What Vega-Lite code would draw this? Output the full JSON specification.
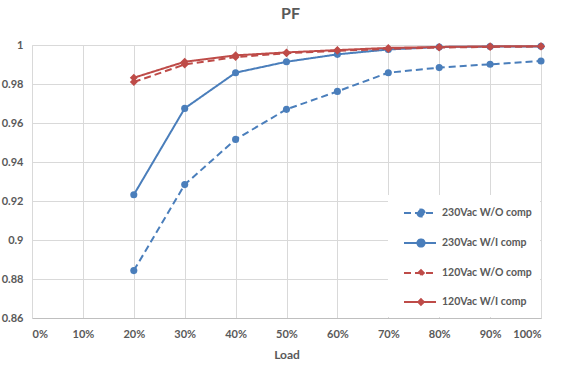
{
  "$schema": "https://vega.github.io/schema/vega-lite/v6.json",
  "width": 509,
  "height": 273,
  "autosize": {"type": "none"},
  "padding": {"left": 32, "top": 45, "right": 35, "bottom": 55},
  "background": "white",
  "title": {"text": "PF", "fontSize": 16, "font": "Lato", "fontWeight": "bold", "color": "#595959", "offset": 17, "dx": 4},
  "config": {
    "view": {"stroke": null},
    "font": "Lato",
    "axis": {"labelFont": "Lato", "labelFontSize": 11, "labelFontWeight": "bold", "labelColor": "#595959", "gridColor": "#d9d9d9", "gridWidth": 1, "domainColor": "#d9d9d9", "ticks": false, "titleColor": "#595959", "titleFont": "Lato", "titleFontSize": 12, "titleFontWeight": "bold"}
  },
  "data": {"values": [
    {"load": 0.2, "pf": 0.8843, "series": "230Vac W/O comp"},
    {"load": 0.3, "pf": 0.9284, "series": "230Vac W/O comp"},
    {"load": 0.4, "pf": 0.9516, "series": "230Vac W/O comp"},
    {"load": 0.5, "pf": 0.967, "series": "230Vac W/O comp"},
    {"load": 0.6, "pf": 0.9762, "series": "230Vac W/O comp"},
    {"load": 0.7, "pf": 0.9858, "series": "230Vac W/O comp"},
    {"load": 0.8, "pf": 0.9884, "series": "230Vac W/O comp"},
    {"load": 0.9, "pf": 0.9901, "series": "230Vac W/O comp"},
    {"load": 1.0, "pf": 0.9918, "series": "230Vac W/O comp"},
    {"load": 0.2, "pf": 0.9232, "series": "230Vac W/I comp"},
    {"load": 0.3, "pf": 0.9675, "series": "230Vac W/I comp"},
    {"load": 0.4, "pf": 0.9858, "series": "230Vac W/I comp"},
    {"load": 0.5, "pf": 0.9914, "series": "230Vac W/I comp"},
    {"load": 0.6, "pf": 0.9952, "series": "230Vac W/I comp"},
    {"load": 0.7, "pf": 0.9977, "series": "230Vac W/I comp"},
    {"load": 0.8, "pf": 0.999, "series": "230Vac W/I comp"},
    {"load": 0.9, "pf": 0.9992, "series": "230Vac W/I comp"},
    {"load": 1.0, "pf": 0.9993, "series": "230Vac W/I comp"},
    {"load": 0.2, "pf": 0.981, "series": "120Vac W/O comp"},
    {"load": 0.3, "pf": 0.990, "series": "120Vac W/O comp"},
    {"load": 0.4, "pf": 0.9938, "series": "120Vac W/O comp"},
    {"load": 0.5, "pf": 0.9958, "series": "120Vac W/O comp"},
    {"load": 0.6, "pf": 0.997, "series": "120Vac W/O comp"},
    {"load": 0.7, "pf": 0.998, "series": "120Vac W/O comp"},
    {"load": 0.8, "pf": 0.9987, "series": "120Vac W/O comp"},
    {"load": 0.9, "pf": 0.999, "series": "120Vac W/O comp"},
    {"load": 1.0, "pf": 0.9992, "series": "120Vac W/O comp"},
    {"load": 0.2, "pf": 0.9832, "series": "120Vac W/I comp"},
    {"load": 0.3, "pf": 0.9914, "series": "120Vac W/I comp"},
    {"load": 0.4, "pf": 0.9947, "series": "120Vac W/I comp"},
    {"load": 0.5, "pf": 0.9962, "series": "120Vac W/I comp"},
    {"load": 0.6, "pf": 0.9974, "series": "120Vac W/I comp"},
    {"load": 0.7, "pf": 0.9985, "series": "120Vac W/I comp"},
    {"load": 0.8, "pf": 0.999, "series": "120Vac W/I comp"},
    {"load": 0.9, "pf": 0.9993, "series": "120Vac W/I comp"},
    {"load": 1.0, "pf": 0.9994, "series": "120Vac W/I comp"}
  ]},
  "encoding": {
    "x": {"field": "load", "type": "quantitative", "title": "Load",
      "scale": {"domain": [0, 1], "nice": false},
      "axis": {"values": [0, 0.1, 0.2, 0.3, 0.4, 0.5, 0.6, 0.7, 0.8, 0.9, 1], "format": ".0%", "labelPadding": 10, "titleY": 31, "domainColor": "#bfbfbf"}},
    "y": {"field": "pf", "type": "quantitative", "title": null,
      "scale": {"domain": [0.86, 1], "nice": false, "zero": false},
      "axis": {"values": [0.86, 0.88, 0.9, 0.92, 0.94, 0.96, 0.98, 1], "format": ".2~f", "labelPadding": 9}},
    "color": {"field": "series", "type": "nominal", "sort": null,
      "scale": {"domain": ["230Vac W/O comp", "230Vac W/I comp", "120Vac W/O comp", "120Vac W/I comp"], "range": ["#4a7ebb", "#4a7ebb", "#be4b48", "#be4b48"]},
      "legend": {"title": null, "orient": "bottom-right", "offset": 1, "fillColor": "white", "padding": 8, "rowPadding": 12,
        "labelFont": "Lato", "labelFontSize": 10.5, "labelFontWeight": "bold", "labelColor": "#595959", "labelLimit": 200, "labelOffset": 11,
        "symbolSize": 324, "symbolOffset": 15, "symbolStrokeWidth": 2,
        "encode": {"symbols": {"update": {
          "shape": {"signal": "indexof(datum.value, '120') == 0 ? 'M-1.89,0L1.67,0M0,-0.31L0.31,0L0,0.31L-0.31,0Z' : 'M-1.89,0L1.67,0M-0.4,0A0.4,0.4 0 1 0 0.4,0A0.4,0.4 0 1 0 -0.4,0Z'"},
          "fill": {"scale": "color", "field": "value"},
          "fillOpacity": {"value": 1},
          "stroke": {"scale": "color", "field": "value"},
          "strokeWidth": {"value": 2}
        }}}}
    }
  },
  "layer": [
    {"mark": {"type": "line", "strokeWidth": 2},
     "encoding": {
       "strokeDash": {"field": "series", "type": "nominal", "sort": null,
         "scale": {"domain": ["230Vac W/O comp", "230Vac W/I comp", "120Vac W/O comp", "120Vac W/I comp"], "range": [[7, 4], [1, 0], [7, 4], [1, 0]]}}
     }},
    {"transform": [{"filter": "indexof(datum.series, '230') == 0"}],
     "mark": {"type": "point", "filled": true, "opacity": 1, "size": 50, "shape": "circle"}},
    {"transform": [{"filter": "indexof(datum.series, '120') == 0"}],
     "mark": {"type": "point", "filled": true, "opacity": 1, "size": 64, "shape": "diamond"}}
  ]
}
